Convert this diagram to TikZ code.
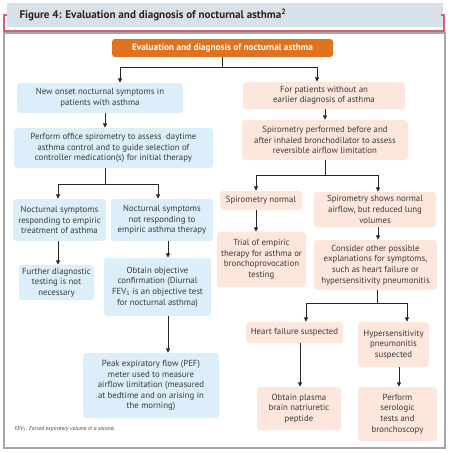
\documentclass[tikz,border=0pt]{standalone}
\usepackage{fontspec}
\setmainfont{PT Sans}
\usetikzlibrary{arrows.meta}
\definecolor{bluefill}{HTML}{DCEEFA}
\definecolor{peachfill}{HTML}{FDE7DD}
\definecolor{hdr}{HTML}{E2711D}
\definecolor{titlebar}{HTML}{D8E1E7}
\definecolor{redline}{HTML}{D4636E}
\definecolor{framegrey}{HTML}{A5A5A5}
\definecolor{txt}{HTML}{3A3A3A}
\begin{document}
\begin{tikzpicture}[x=1pt,y=-1pt,
  box/.style={rounded corners=3pt, inner sep=0pt, align=center, text=txt, font=\fontsize{8.8}{10.6}\selectfont},
  bluebox/.style={box, fill=bluefill},
  peachbox/.style={box, fill=peachfill},
  ln/.style={draw=black!85, line width=0.9pt},
  arr/.style={ln, -{Triangle[length=4.5pt,width=4pt]}}]
\useasboundingbox (0,0) rectangle (451,453);
% title banner
\fill[titlebar] (7,3) rectangle (443,27);
\draw[redline, line width=1.4pt] (7,15) -- (4,15) -- (4,31) -- (444,31) -- (444,15) -- (441,15);
\node[anchor=west, text=black!85, font=\fontsize{11.1}{12}\selectfont\bfseries] (title) at (16,15) {Figure 4: Evaluation and diagnosis of nocturnal asthma\textsuperscript{2}};
\draw[framegrey, line width=1.8pt] (4,33) rectangle (445,448);
% header
\node[rounded corners=3pt, fill=hdr, text=white, font=\fontsize{9.3}{10}\selectfont\bfseries, minimum width=221, minimum height=18, inner sep=0pt] (H) at (222.5,48) {Evaluation and diagnosis of nocturnal asthma};
% left column
\node[bluebox, minimum width=166, minimum height=30] (L1) at (100,98) {New onset nocturnal symptoms in\\patients with asthma};
\node[bluebox, minimum width=199, minimum height=40] (L2) at (113.5,148) {Perform office spirometry to assess\ \ daytime\\asthma control and to guide selection of\\controller medication(s) for initial therapy};
\node[bluebox, minimum width=93, minimum height=42] (L3a) at (59.5,220) {Nocturnal symptoms\\responding to empiric\\treatment of asthma};
\node[bluebox, minimum width=102, minimum height=42] (L3b) at (162,220) {Nocturnal symptoms\\not responding to\\empiric asthma therapy};
\node[bluebox, minimum width=75, minimum height=35] (L4a) at (56.5,282.5) {Further diagnostic\\testing is not\\necessary};
\node[bluebox, minimum width=107, minimum height=58] (L4b) at (157.5,287) {Obtain objective\\confirmation (Diurnal\\FEV\textsubscript{1} is an objective test\\for nocturnal asthma)};
\node[bluebox, minimum width=136, minimum height=65] (L5) at (151,385.5) {Peak expiratory flow (PEF)\\meter used to measure\\airflow limitation (measured\\at bedtime and on arising in\\the morning)};
% right column
\node[peachbox, minimum width=162, minimum height=27] (R1) at (324,95.5) {For patients without an\\earlier diagnosis of asthma};
\node[peachbox, minimum width=166, minimum height=40] (R2) at (325,140) {Spirometry performed before and\\after inhaled bronchodilator to assess\\reversible airflow limitation};
\node[peachbox, minimum width=82, minimum height=19] (R3a) at (261,200.5) {Spirometry normal};
\node[peachbox, minimum width=122, minimum height=35] (R3b) at (375,209.5) {Spirometry shows normal\\airflow, but reduced lung\\volumes};
\node[peachbox, minimum width=89, minimum height=55] (R4a) at (261.5,259.5) {Trial of empiric\\therapy for asthma or\\bronchoprovocation\\testing};
\node[peachbox, minimum width=123, minimum height=50] (R4b) at (375.5,265) {Consider other possible\\explanations for symptoms,\\such as heart failure or\\hypersensitivity pneumonitis};
\node[peachbox, minimum width=97, minimum height=21] (R5a) at (294.5,332.5) {Heart failure suspected};
\node[peachbox, minimum width=71, minimum height=45] (R5b) at (393.5,344.5) {Hypersensitivity\\pneumonitis\\suspected};
\node[peachbox, minimum width=84, minimum height=43] (R6a) at (299,408.5) {Obtain plasma\\brain natriuretic\\peptide};
\node[peachbox, minimum width=79, minimum height=54] (R6b) at (397.5,414) {Perform\\serologic\\tests and\\bronchoscopy};
% footnote
\node[anchor=west, text=txt, font=\fontsize{5.6}{6}\selectfont\itshape] (fn) at (11,429) {FEV\textsubscript{1}: Forced expiratory volume in a second.};
% connectors
\coordinate (j0) at (222.5,67);
\draw[ln] (H.south) -- (j0);
\draw[arr] (j0) -| ([xshift=20]L1.north);
\draw[arr] (j0) -| ([xshift=-7]R1.north);
\draw[arr] ([xshift=5]L1.south) -- ([xshift=-8.5]L2.north);
\coordinate (j1) at (105,184);
\draw[ln] ([xshift=-8.5]L2.south) -- (j1);
\draw[arr] (j1) -| ([xshift=-1.5]L3a.north);
\draw[arr] (j1) -| ([xshift=-4]L3b.north);
\draw[arr] ([xshift=-1.5]L3a.south) -- ([xshift=1.5]L4a.north);
\draw[arr] ([xshift=6]L3b.south) -- ([xshift=10.5]L4b.north);
\draw[arr] ([xshift=10.5]L4b.south) -- ([xshift=17]L5.north);
\draw[arr] ([xshift=1]R1.south) -- (R2.north);
\coordinate (j2) at (325,175);
\draw[ln] (R2.south) -- (j2);
\draw[arr] (j2) -| ([xshift=-5]R3a.north);
\draw[arr] (j2) -| ([xshift=3]R3b.north);
\draw[arr] ([xshift=-5]R3a.south) -- ([xshift=-5.5]R4a.north);
\draw[arr] ([xshift=3]R3b.south) -- ([xshift=2.5]R4b.north);
\coordinate (j3) at (377,303);
\draw[ln] ([xshift=1.5]R4b.south) -- (j3);
\draw[arr] (j3) -| ([xshift=11.5]R5a.north);
\draw[arr] (j3) -| ([xshift=13.5]R5b.north);
\draw[arr] ([xshift=5.5]R5a.south) -- ([xshift=1]R6a.north);
\draw[arr] ([xshift=5.5]R5b.south) -- ([xshift=1.5]R6b.north);
\end{tikzpicture}
\end{document}
